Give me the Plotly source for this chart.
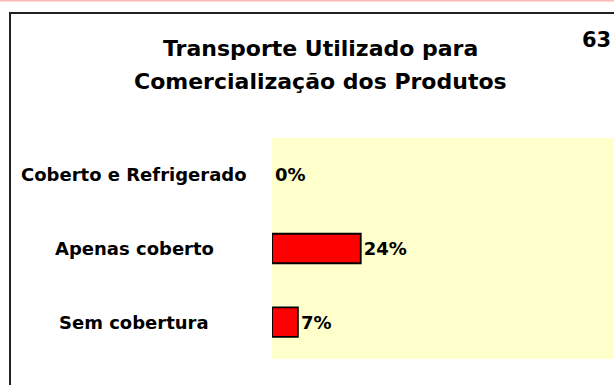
import plotly.graph_objects as go

# Transport types and the share of producers using each one (%)
categorias = ["Coberto e Refrigerado", "Apenas coberto", "Sem cobertura"]
percentuais = [0, 24, 7]
rotulos = ["0%", "24%", "7%"]

titulo = ["Transporte Utilizado para", "Comercialização dos Produtos"]
pagina = "63"

W, H = 614, 385
FONTE = "Comic Sans MS, DejaVu Sans, sans-serif"


def px(x):
    return x / W


def py(y):
    return 1 - y / H


# no outline on an empty bar
contorno = [1.8 if v > 0 else 0 for v in percentuais]

fig = go.Figure(
    go.Bar(
        x=percentuais,
        y=categorias,
        orientation="h",
        width=0.4,
        marker=dict(color="#ff0000", line=dict(color="#000000", width=contorno)),
        text=[f"<b>{r}</b>" for r in rotulos],
        texttemplate="%{text}",
        textposition="outside",
        textfont=dict(family=FONTE, size=18, color="#000000"),
        cliponaxis=False,
    )
)

fig.update_layout(
    width=W,
    height=H,
    margin=dict(l=0, r=0, t=0, b=0),
    paper_bgcolor="#ffffff",
    plot_bgcolor="#ffffcc",
    showlegend=False,
    font=dict(family=FONTE, color="#000000"),
    xaxis=dict(
        domain=[px(272), 1],
        range=[0, 92.5],
        showgrid=False,
        zeroline=False,
        showticklabels=False,
        ticks="",
    ),
    yaxis=dict(
        domain=[py(359), py(138)],
        categoryorder="array",
        categoryarray=categorias[::-1],
        showgrid=False,
        zeroline=False,
        showticklabels=False,
        ticks="",
    ),
)

# Category names, centred in the left column
for cat in categorias:
    fig.add_annotation(
        x=px(134), xref="paper", y=cat, yref="y",
        text=f"<b>{cat}</b>", showarrow=False,
        xanchor="center", yanchor="middle",
        font=dict(family=FONTE, size=18, color="#000000"),
    )

# Two-line title
for i, linha in enumerate(titulo):
    fig.add_annotation(
        x=px(320), xref="paper", y=py(48 + 34 * i), yref="paper",
        text=f"<b>{linha}</b>", showarrow=False,
        xanchor="center", yanchor="middle",
        font=dict(family=FONTE, size=22, color="#000000"),
    )

# Page number in the top-right corner
fig.add_annotation(
    x=px(613), xref="paper", y=py(40), yref="paper",
    text=f"<b>{pagina}</b>", showarrow=False,
    xanchor="right", yanchor="middle",
    font=dict(family=FONTE, size=21, color="#000000"),
)

# Pink rule along the top edge and the framed panel
fig.add_shape(
    type="line", xref="paper", yref="paper",
    x0=0, x1=1, y0=py(0.8), y1=py(0.8),
    line=dict(color="#ffb8b8", width=1.6),
)
fig.add_shape(
    type="rect", xref="paper", yref="paper",
    x0=px(10), x1=px(W + 10), y0=py(H + 10), y1=py(13),
    line=dict(color="#222222", width=2),
    layer="above",
)

fig.write_html("out.html")
